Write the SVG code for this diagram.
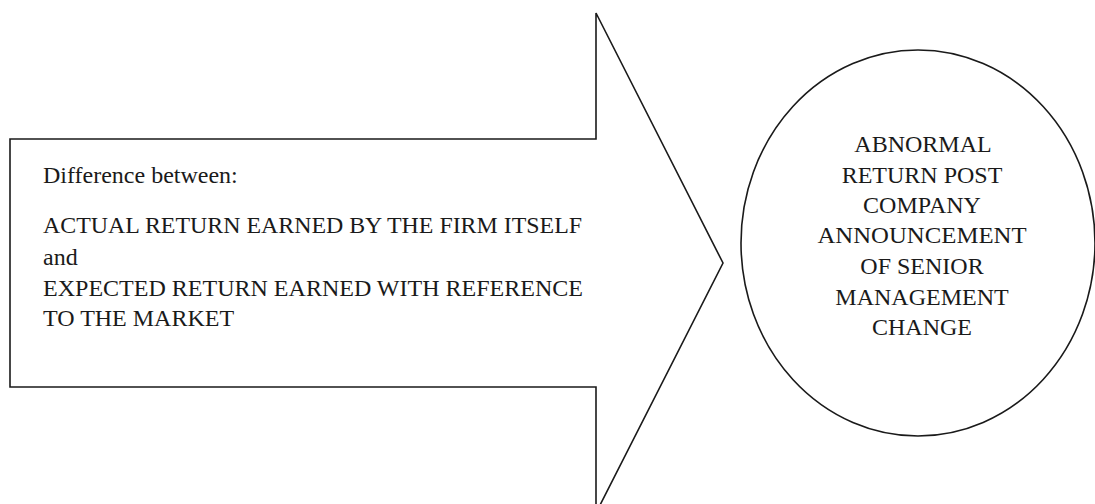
<svg xmlns="http://www.w3.org/2000/svg" width="1095" height="504" viewBox="0 0 1095 504">
<style>
.shape{fill:#fff;stroke:#1a1a1a;stroke-width:1.6;stroke-linejoin:miter}
.t{font-family:"Liberation Serif","Times New Roman",serif;font-size:24px;fill:#1a1a1a}
.c{text-anchor:middle}
</style>
<rect x="0" y="0" width="1095" height="504" fill="#fff"/>
<g id="arrow">
<polygon class="shape" points="10,139 596,139 596,13 723,263 596,513 596,387 10,387"/>
<text class="t" x="43" y="183">Difference between:</text>
<text class="t" x="43" y="233" textLength="539" lengthAdjust="spacingAndGlyphs">ACTUAL RETURN EARNED BY THE FIRM ITSELF</text>
<text class="t" x="43" y="265">and</text>
<text class="t" x="43" y="296" textLength="540" lengthAdjust="spacingAndGlyphs">EXPECTED RETURN EARNED WITH REFERENCE</text>
<text class="t" x="43" y="326">TO THE MARKET</text>
</g>
<g id="connectors"></g>
<g id="result">
<ellipse class="shape" cx="918" cy="243" rx="177" ry="193"/>
<text class="t c" x="923" y="152">ABNORMAL</text>
<text class="t c" x="922" y="183">RETURN POST</text>
<text class="t c" x="922" y="213">COMPANY</text>
<text class="t c" x="922" y="243" textLength="209" lengthAdjust="spacingAndGlyphs">ANNOUNCEMENT</text>
<text class="t c" x="922" y="274">OF SENIOR</text>
<text class="t c" x="922" y="305">MANAGEMENT</text>
<text class="t c" x="922" y="335">CHANGE</text>
</g>
</svg>
